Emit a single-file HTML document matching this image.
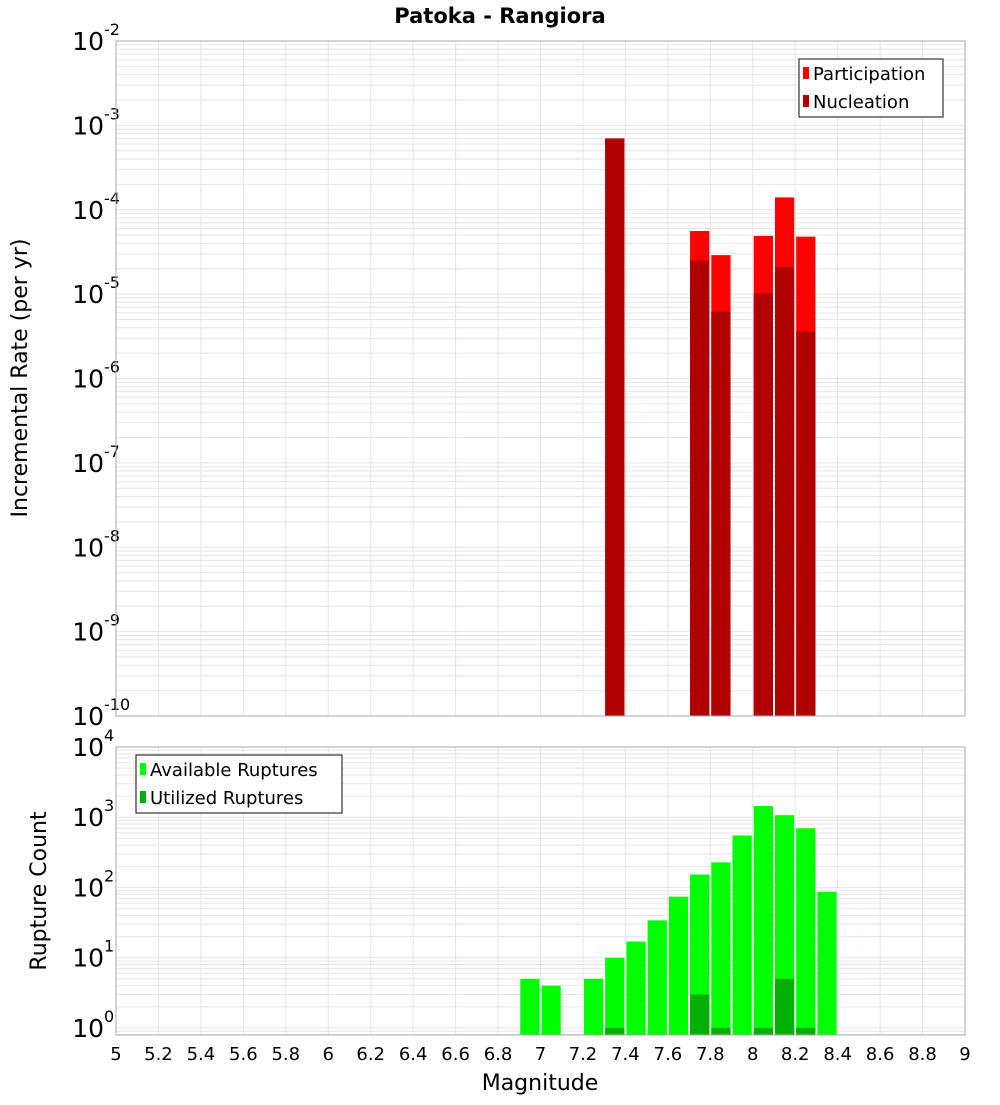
<!DOCTYPE html>
<html><head><meta charset="utf-8"><style>
body{margin:0;background:#fff;}
svg text{font-family:"DejaVu Sans","Liberation Sans",sans-serif;}
</style></head><body>
<svg id="c" width="1000" height="1100" xmlns="http://www.w3.org/2000/svg">
<text x="500" y="23" text-anchor="middle" font-size="21" font-weight="bold">Patoka - Rangiora</text>
<g id="top"></g>
<g id="bot"></g>
<text transform="translate(27,378) rotate(-90)" text-anchor="middle" font-size="22">Incremental Rate (per yr)</text>
<text transform="translate(46,891) rotate(-90)" text-anchor="middle" font-size="22">Rupture Count</text>
<text x="540" y="1090" text-anchor="middle" font-size="22">Magnitude</text>
</svg>
<script>
const rateBins=[7.3,7.7,7.8,8.0,8.1,8.2];
const participation=[7e-4,5.6e-5,2.9e-5,4.9e-5,1.4e-4,4.8e-5];
const nucleation=[7e-4,2.5e-5,6.2e-6,1.02e-5,2.1e-5,3.6e-6];
const countBins=[6.9,7.0,7.2,7.3,7.4,7.5,7.6,7.7,7.8,7.9,8.0,8.1,8.2,8.3];
const available=[5,4,5,10,17,34,74,153,228,550,1440,1070,696,87];
const utilized=[0,0,0,1,0,0,0,3,1,0,1,5,1,0];
const xTicks=[5,5.2,5.4,5.6,5.8,6,6.2,6.4,6.6,6.8,7,7.2,7.4,7.6,7.8,8,8.2,8.4,8.6,8.8,9];
const topExp=[-10,-9,-8,-7,-6,-5,-4,-3,-2];
const botExp=[0,1,2,3,4];

const NS='http://www.w3.org/2000/svg';
const X0=116,X1=965;
const xs=m=>X0+(m-5)/4*(X1-X0);
function mk(p,t,a){const e=document.createElementNS(NS,t);for(const k in a)e.setAttribute(k,a[k]);p.appendChild(e);return e;}

function panel(g,top,bottom,lmin,lmax,exps,name){
  const ys=v=>bottom-(Math.log10(v)-lmin)/(lmax-lmin)*(bottom-top);
  const r=mk(g,'rect',{x:X0,y:top,width:X1-X0,height:bottom-top,fill:'#fff'});
  
  
  for(let d=Math.floor(lmin);d<lmax;d++)for(let k=1;k<10;k++){
    const v=k*Math.pow(10,d);const l=Math.log10(v);if(l<lmin||l>lmax)continue;
    const y=ys(v);
    const ln=mk(g,'line',{x1:X0,x2:X1,y1:y,y2:y,stroke:'#e6e6e6','stroke-width':1});
    
    
  }
  xTicks.forEach(t=>{const x=xs(t);
    const ln=mk(g,'line',{x1:x,x2:x,y1:top,y2:bottom,stroke:'#e6e6e6','stroke-width':1});
    
    });
  exps.forEach(e=>{const y=ys(Math.pow(10,e));
    const t=mk(g,'text',{x:104,y:y+9,'text-anchor':'end','font-size':25});
    
    
    t.textContent='10';
    const s=mk(g,'text',{x:104,y:y-6,'font-size':16});
    
    
    s.textContent=String(e);});
  return ys;
}
function bars(g,bins,vals,ys,bottom,color,name){
  bins.forEach((b,i)=>{if(!vals[i])return;const y=ys(vals[i]);const x=xs(b)+1,w=xs(b+0.1)-xs(b)-2;
    const r=mk(g,'rect',{x:x,y:y,width:w,height:bottom-y,fill:color});
    
    });
}
function frame(g,top,bottom){mk(g,'rect',{x:X0,y:top,width:X1-X0,height:bottom-top,fill:'none',stroke:'#aaa','stroke-width':1});}
function legend(g,x,y,w,items){
  const b=mk(g,'rect',{x:x,y:y,width:w,height:58,fill:'#fff',stroke:'#333','stroke-width':1.2});
  
  
  items.forEach((it,i)=>{const yy=y+14+i*28;
    const sw=mk(g,'rect',{x:x+4,y:yy-6,width:6,height:12,fill:it[1]});
    
    
    const t=mk(g,'text',{x:x+14,y:yy+7,'font-size':18});
    
    
    t.textContent=it[0];});
}
const gt=document.getElementById('top'),gb=document.getElementById('bot');
const yt=panel(gt,41,716,-10,-2,topExp,'rate');
bars(gt,rateBins,participation,yt,716,'#ff0000','participation');
bars(gt,rateBins,nucleation,yt,716,'#b00000','nucleation');
frame(gt,41,716);
legend(gt,799,59,144,[['Participation','#ff0000'],['Nucleation','#b00000']]);
const yb=panel(gb,747,1035,-0.1,4,botExp,'count');
bars(gb,countBins,available,yb,1035,'#00ff00','available');
bars(gb,countBins,utilized,yb,1035,'#00b000','utilized');
frame(gb,747,1035);
legend(gb,136,755,206,[['Available Ruptures','#00ff00'],['Utilized Ruptures','#00b000']]);
xTicks.forEach(t=>{const tx=mk(gb,'text',{x:xs(t),y:1060,'text-anchor':'middle','font-size':18});
  
  
  tx.textContent=String(t);});
</script>
</body></html>
